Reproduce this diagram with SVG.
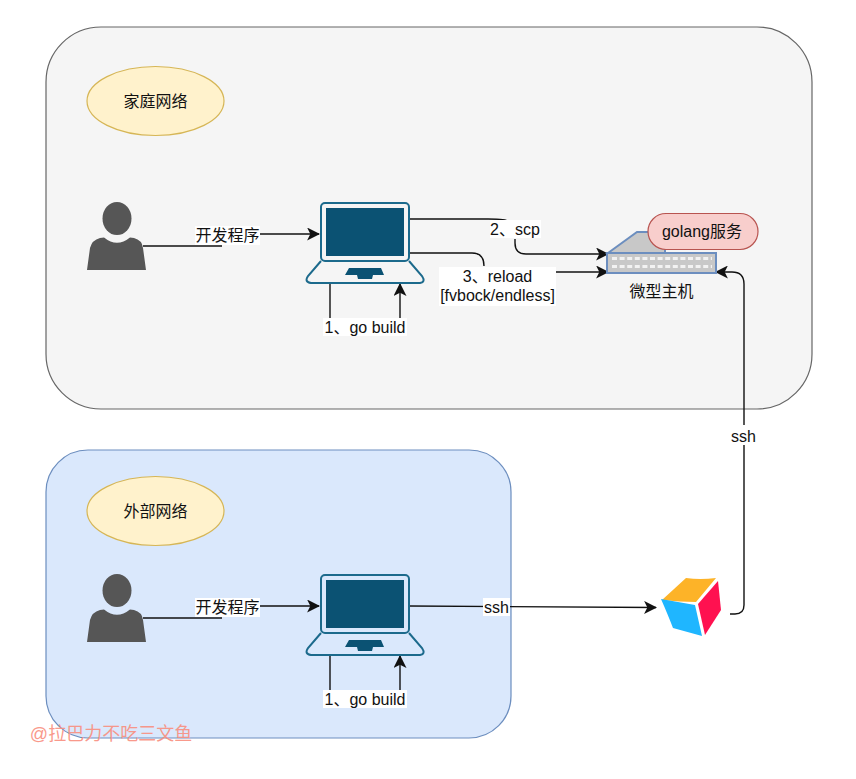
<svg xmlns="http://www.w3.org/2000/svg" width="856" height="779" viewBox="0 0 856 779">
<style>
text{font-family:"Liberation Sans","Noto Sans CJK SC",sans-serif;font-size:16px;fill:#111;text-anchor:middle}
.c{fill:none;stroke:#111;stroke-width:1.4}
.a{marker-end:url(#ah)}
.lb{fill:#fff;stroke:none}
.scr{fill:#0b5273}
.lap{fill:none;stroke:#1c6a8c;stroke-width:2}
.person{fill:#565656}
.el{fill:#fff2cc;stroke:#d6b656;stroke-width:1.2}
</style>
<defs>
<marker id="ah" viewBox="0 0 12 12" refX="11" refY="6" markerWidth="13" markerHeight="13" markerUnits="userSpaceOnUse" orient="auto"><path d="M0 0L12 6L0 12L3 6Z" fill="#111"/></marker>
<g id="laptopShape">
<rect x="321" y="203" width="88" height="58" rx="4" class="lap"/>
<rect class="scr" x="326" y="208" width="78" height="48"/>
<path class="lap" d="M321 261L308 276Q304 282 311 283H420Q426 282 422 276L409 261"/>
<path class="scr" d="M349 268H381L384 275H373L372 279H358L357 275H345Z"/>
</g>
<g id="personShape">
<ellipse class="person" cx="117" cy="218.500" rx="14.500" ry="16.500"/>
<path class="person" d="M87 270L90 248Q92 240 100 238L104 237.500Q117 248 130 237.500L134 238Q142 240 143 248L146 270Z"/>
</g>
</defs>
<rect width="856" height="779" fill="#fff"/>
<g id="home-network"><rect x="46" y="27" width="766" height="382" rx="55" fill="#f5f5f5" stroke="#666" stroke-width="1.200"/></g>
<g id="external-network"><rect x="46" y="450" width="465" height="288" rx="42" fill="#dae8fc" stroke="#6c8ebf" stroke-width="1.200"/></g>
<g id="connectors">
<path class="c" d="M143 246H222"/>
<path class="c a" d="M259 234H319"/>
<path class="c" d="M330 283V320"/>
<path class="c a" d="M400 319V284"/>
<path class="c" d="M408 219H488Q507 219 507 221"/>
<path class="c a" d="M515 239V243Q515 254 526 254H608"/>
<path class="c" d="M408 253H472Q484 253 484 266"/>
<path class="c a" d="M556 272H608"/>
<path class="c" d="M143 618H222"/>
<path class="c a" d="M259 606H319"/>
<path class="c" d="M330 655V692"/>
<path class="c a" d="M400 691V656"/>
<path class="c a" d="M409 606L656 607.500"/>
<path class="c" d="M730 614H735Q744 614 744 605V445"/>
<path class="c a" d="M744 425V284Q744 272 732 272H716"/>
</g>
<g id="label-home"><ellipse class="el" cx="155.500" cy="101" rx="68.500" ry="34.500"/><text x="155.500" y="106.500">家庭网络</text></g>
<g id="label-external"><ellipse class="el" cx="155.500" cy="511" rx="68.500" ry="34.500"/><text x="155.500" y="516.500">外部网络</text></g>
<g id="person-home"><use href="#personShape"/></g>
<g id="person-external"><use href="#personShape" y="372"/></g>
<g id="laptop-home"><use href="#laptopShape"/></g>
<g id="laptop-external"><use href="#laptopShape" y="372"/></g>
<g id="host">
<path d="M608 253L637 232H665V253Z" fill="#c8c8c8" stroke="#6c8ebf" stroke-width="2"/>
<rect x="607" y="253" width="109" height="20" fill="#c8c8c8" stroke="#6c8ebf" stroke-width="2"/>
<path d="M612 258.500H712M612 266.500H712" stroke="#f2f2f2" stroke-width="3" stroke-dasharray="5 2.600" fill="none"/>
<text x="661.500" y="297">微型主机</text>
</g>
<g id="golang"><rect x="648" y="213.500" width="110" height="36" rx="18" fill="#f8cecc" stroke="#b85450" stroke-width="1.200"/><text x="702" y="236.500">golang服务</text></g>
<g id="airflow">
<path d="M662 600L686 578Q700 580 716 578L696 602Q680 602 662 600Z" fill="#fdb328"/>
<path d="M661 599L695 605L702 636L673 628Q668 615 661 599Z" fill="#1fb6ff"/>
<path d="M718 581L721 610L705 635L698 604Z" fill="#ff1150"/>
</g>
<g id="edge-labels">
<rect class="lb" x="195" y="226" width="65" height="19"/><text x="227.500" y="241">开发程序</text>
<rect class="lb" x="195" y="598" width="65" height="19"/><text x="227.500" y="612.500">开发程序</text>
<rect class="lb" x="323" y="318" width="84" height="18"/><text x="365" y="333">1、go build</text>
<rect class="lb" x="323" y="690" width="84" height="18"/><text x="365" y="705">1、go build</text>
<rect class="lb" x="490" y="220" width="51" height="18"/><text x="515" y="234.500">2、scp</text>
<rect class="lb" x="439" y="267" width="117" height="39"/><text x="497.500" y="281.500">3、reload</text><text x="497.500" y="300.500">[fvbock/endless]</text>
<rect class="lb" x="483" y="598" width="27" height="18"/><text x="496.500" y="612.500">ssh</text>
<rect class="lb" x="730" y="427" width="27" height="18"/><text x="743.500" y="441.500">ssh</text>
</g>
<text x="111" y="740" style="font-size:18px;fill:#f98f7f;opacity:.9">@拉巴力不吃三文鱼</text>
</svg>
